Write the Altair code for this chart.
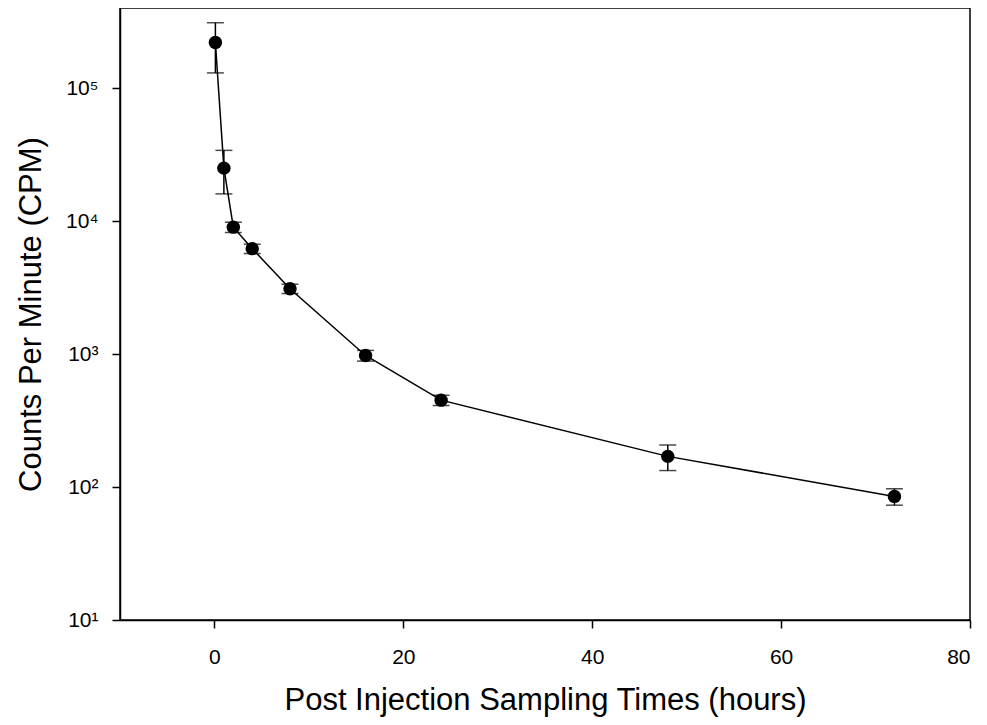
import altair as alt
import pandas as pd

hours = [0.1, 1, 2, 4, 8, 16, 24, 48, 72]
cpm = [220000, 25000, 9000, 6200, 3100, 975, 450, 170, 85]
err = [90000, 9000, 800, 500, 250, 90, 40, 37, 12]

df = pd.DataFrame({"hours": hours, "cpm": cpm, "err": err})
df["lo"] = df["cpm"] - df["err"]
df["hi"] = df["cpm"] + df["err"]

FONT = "Liberation Sans"

x = alt.X("hours:Q",
          scale=alt.Scale(domain=[-10, 80], nice=False, zero=False),
          axis=alt.Axis(title="Post Injection Sampling Times (hours)",
                        values=[0, 20, 40, 60, 80], grid=False,
                        tickSize=8, labelPadding=18, titlePadding=18))
y = alt.Y("cpm:Q",
          scale=alt.Scale(type="log", domain=[10, 400000], nice=False),
          axis=alt.Axis(title="Counts Per Minute (CPM)",
                        values=[10, 100, 1000, 10000, 100000], grid=False,
                        tickSize=8, labelPadding=14, titlePadding=18,
                        labelExpr="'10' + ['⁰','¹','²','³','⁴','⁵'][round(log(datum.value)/LN10)]"))

base = alt.Chart(df)

line = base.mark_line(color="black", strokeWidth=1.5).encode(x=x, y=y)
bars = base.mark_rule(color="black", strokeWidth=1.5).encode(x="hours:Q", y="lo:Q", y2="hi:Q")
cap_hi = base.mark_tick(color="black", thickness=1.5, size=17, orient="horizontal").encode(x="hours:Q", y="hi:Q")
cap_lo = base.mark_tick(color="black", thickness=1.5, size=17, orient="horizontal").encode(x="hours:Q", y="lo:Q")
pts = base.mark_point(filled=True, shape="circle", color="black", size=180, opacity=1).encode(x="hours:Q", y="cpm:Q")

chart = alt.layer(line, bars, cap_hi, cap_lo, pts).properties(
    width=850, height=612,
    autosize=alt.AutoSizeParams(type="none"),
    padding={"left": 112, "top": 0, "right": 9, "bottom": 97},
).configure_view(
    stroke="black", strokeWidth=1.5
).configure_axis(
    domainColor="black", domainWidth=1.5, tickColor="black", tickWidth=1.5,
    labelFont=FONT, titleFont=FONT, labelFontSize=21, titleFontSize=31,
    labelColor="black", titleColor="black", titleFontWeight="normal"
)

chart.save("out.html", embed_options={"renderer": "svg", "actions": False})
